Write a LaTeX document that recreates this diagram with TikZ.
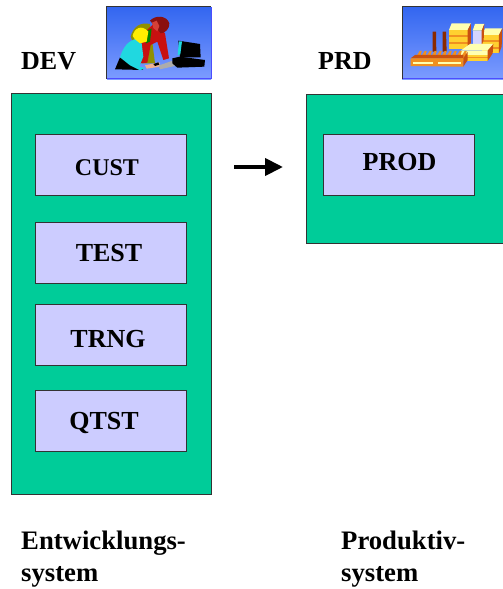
\documentclass[tikz,border=0pt]{standalone}
\usepackage{fontspec}
\setmainfont{Liberation Serif}
\usetikzlibrary{arrows.meta}
\definecolor{sysgreen}{HTML}{00CC99}
\definecolor{clientblue}{HTML}{CCCCFF}
\definecolor{edgegray}{HTML}{333333}
\definecolor{iconA}{HTML}{3366F0}
\definecolor{iconB}{HTML}{7C9CFF}
\definecolor{pale}{HTML}{FFFFB0}
\definecolor{yel}{HTML}{FFD030}
\definecolor{org}{HTML}{F09020}
\definecolor{rust}{HTML}{C85010}
\definecolor{brownish}{HTML}{8A2A00}
\definecolor{red1}{HTML}{C81010}
\definecolor{red2}{HTML}{8A1010}
\definecolor{olive1}{HTML}{909000}
\definecolor{skin}{HTML}{F0B090}
\definecolor{cyan1}{HTML}{20D8E0}
\newcommand\shifted[3]{\raisebox{#2}[\height][\depth]{\kern#1 #3\kern-#1}}
\tikzset{
  x=1pt,y=-1pt,
  sysbox/.style={draw=edgegray,line width=1pt,fill=sysgreen},
  clientbox/.style={draw=edgegray,line width=1pt,fill=clientblue,minimum width=151.5pt,minimum height=61pt,inner sep=0pt,anchor=center,
     font=\fontsize{26}{26}\selectfont\bfseries},
  lbl/.style={inner sep=0pt,anchor=base west,font=\fontsize{26}{26}\selectfont\bfseries},
  captext/.style={inner sep=0pt,anchor=base west,font=\fontsize{26.7}{32}\selectfont\bfseries},
  iconbg/.style={top color=iconA,bottom color=iconB,draw=none},
  flow/.style={line width=4pt,-{Triangle[length=18pt,width=17pt]},shorten >=0pt},
  zoomone/.style={x=0.33333pt,y=-0.33333pt,shift={(300,0)}},
  zoomtwo/.style={x=0.33333pt,y=-0.33333pt,shift={(1185,0)}}
}
\begin{document}
\begin{tikzpicture}
\useasboundingbox (0,0) rectangle (503,589);
\fill[white] (0,0) rectangle (503,589);
% systems
\node[sysbox,minimum width=200pt,minimum height=401pt,inner sep=0pt] (dev) at (111,294) {};
\node[sysbox,minimum width=200pt,minimum height=149pt,inner sep=0pt] (prd) at (406.5,168.5) {};
% clients
\node[clientbox] (cust) at (111,165) {\fontsize{24}{24}\selectfont\shifted{-4pt}{-3pt}{CUST}};
\node[clientbox] (test) at (111,253) {\shifted{-2pt}{0pt}{TEST}};
\node[clientbox] (trng) at (111,335) {\shifted{-3pt}{-4pt}{TRNG}};
\node[clientbox] (qtst) at (111,421) {\shifted{-7pt}{-2pt}{QTST}};
\node[clientbox] (prod) at (399,164.5) {\shifted{0.5pt}{2.5pt}{PROD}};
% arrow
\coordinate (a) at (234,167);
\coordinate (b) at (283,167);
\draw[flow] (a) -- (b);
% labels
\node[lbl] (devl) at (21,69) {DEV};
\node[lbl] (prdl) at (318,69) {PRD};
\node[captext] (c1a) at (21,549) {Entwicklungs-};
\node[captext] (c1b) at (21,581) {system};
\node[captext] (c2a) at (341,549) {Produktiv-};
\node[captext] (c2b) at (341,581) {system};
% icon 1
\fill[iconbg] (107,7) rectangle (211,79);
\draw[edgegray,line width=1.4pt] (106.5,79) -- (106.5,6.5) -- (211,6.5);
\draw[blue!70!white,line width=.8pt] (107,78.6) -- (211,78.6) -- (211,7);
\begin{scope}[zoomone]
\fill[olive1] (92,110) .. controls (100,80) and (120,66) .. (150,72) -- (165,190) -- (125,190) -- cycle;
\fill[red1] (130,100) -- (165,68) -- (195,100) -- (207,175) -- (190,180) -- (172,125) -- (152,135) -- (142,188) -- (120,190) -- (118,140) -- cycle;
\fill[red2] (150,62) .. controls (165,45) and (200,45) .. (208,70) .. controls (210,85) and (195,100) .. (182,100) -- (170,85) -- cycle;
\fill[red1!70!skin] (156,68) -- (170,62) -- (178,78) -- (172,94) -- (160,84) -- cycle;
\fill[green!50!black] (138,95) -- (155,85) -- (150,125) -- (138,130) -- cycle;
\fill[black] (45,208) -- (60,172) -- (115,200) -- (130,210) -- cycle;
\fill[cyan1] (60,172) .. controls (70,140) and (85,120) .. (115,115) -- (125,130) -- (130,170) -- (118,200) -- (136,204) -- (120,211) -- (90,196) -- cycle;
\fill[yellow!95!orange] (98,108) .. controls (102,85) and (125,72) .. (145,95) -- (140,125) -- (120,130) -- (105,118) -- cycle;
\fill[skin] (135,196) -- (178,187) -- (182,200) -- (140,206) -- cycle;
\fill[black] (160,192) -- (175,187) -- (178,194) -- (165,198) -- cycle;
\fill[gray!65!white] (175,197) -- (215,183) -- (225,198) -- (180,208) -- cycle;
\fill[black] (217,175) -- (240,170) -- (315,180) -- (313,200) -- (232,203) -- (217,190) -- cycle;
\fill[black] (235,122) -- (300,132) -- (302,172) -- (240,172) -- cycle;
\fill[cyan1] (237,124) -- (246,124) -- (241,163) -- (233,166) -- cycle;
\end{scope}
% icon 2
\fill[iconbg] (402,7) rectangle (503,79);
\draw[edgegray,line width=1.4pt] (402.5,79) -- (402.5,6.5) -- (503,6.5);
\draw[blue!70!white,line width=.8pt] (403,78.6) -- (503,78.6);
\begin{scope}[zoomtwo]
\fill[brownish] (113,95) -- (123,95) -- (124,155) -- (113,155) -- cycle;
\fill[brownish] (143,95) -- (153,95) -- (155,155) -- (143,155) -- cycle;
% back left
\fill[yel] (162,90) rectangle (218,148);
\fill[org] (162,106) rectangle (218,112);
\fill[org] (162,125) rectangle (218,131);
\fill[pale] (162,90) -- (170,70) -- (228,70) -- (218,90) -- cycle;
\fill[rust] (218,90) -- (228,70) -- (228,128) -- (218,148) -- cycle;
% back right
\fill[yel] (262,105) rectangle (312,160);
\fill[org] (262,120) rectangle (312,126);
\fill[org] (262,140) rectangle (312,146);
\fill[pale] (262,105) -- (270,85) -- (322,85) -- (312,105) -- cycle;
\fill[rust] (312,105) -- (322,85) -- (320,140) -- (312,160) -- cycle;
% tower
\fill[clientblue!85!white] (233,92) rectangle (260,136);
\fill[pale] (233,92) -- (240,72) -- (268,72) -- (260,92) -- cycle;
\fill[rust] (260,92) -- (268,72) -- (266,120) -- (260,136) -- cycle;
% front block
\fill[pale] (197,152) -- (225,132) -- (295,132) -- (278,152) -- cycle;
\fill[pale] (197,152) rectangle (278,165);
\fill[yel] (197,165) rectangle (278,183);
\fill[org] (197,170) rectangle (278,175);
\fill[rust] (278,152) -- (295,132) -- (293,160) -- (278,183) -- cycle;
% hall
\foreach \k in {0,...,9}{\fill[org] ({60+\k*15},176) -- ({74+\k*15},153) -- ({80+\k*15},153) -- ({75+\k*15},176) -- cycle;}
\fill[rust] (47,175) -- (60,165) -- (205,165) -- (205,175) -- cycle;
\fill[org] (47,175) -- (205,175) -- (205,200) -- (47,198) -- cycle;
\fill[pale] (55,185) rectangle (115,192);
\fill[pale] (130,185) rectangle (197,192);
\fill[rust] (205,175) -- (218,155) -- (218,180) -- (205,200) -- cycle;
\end{scope}
\end{tikzpicture}
\end{document}
